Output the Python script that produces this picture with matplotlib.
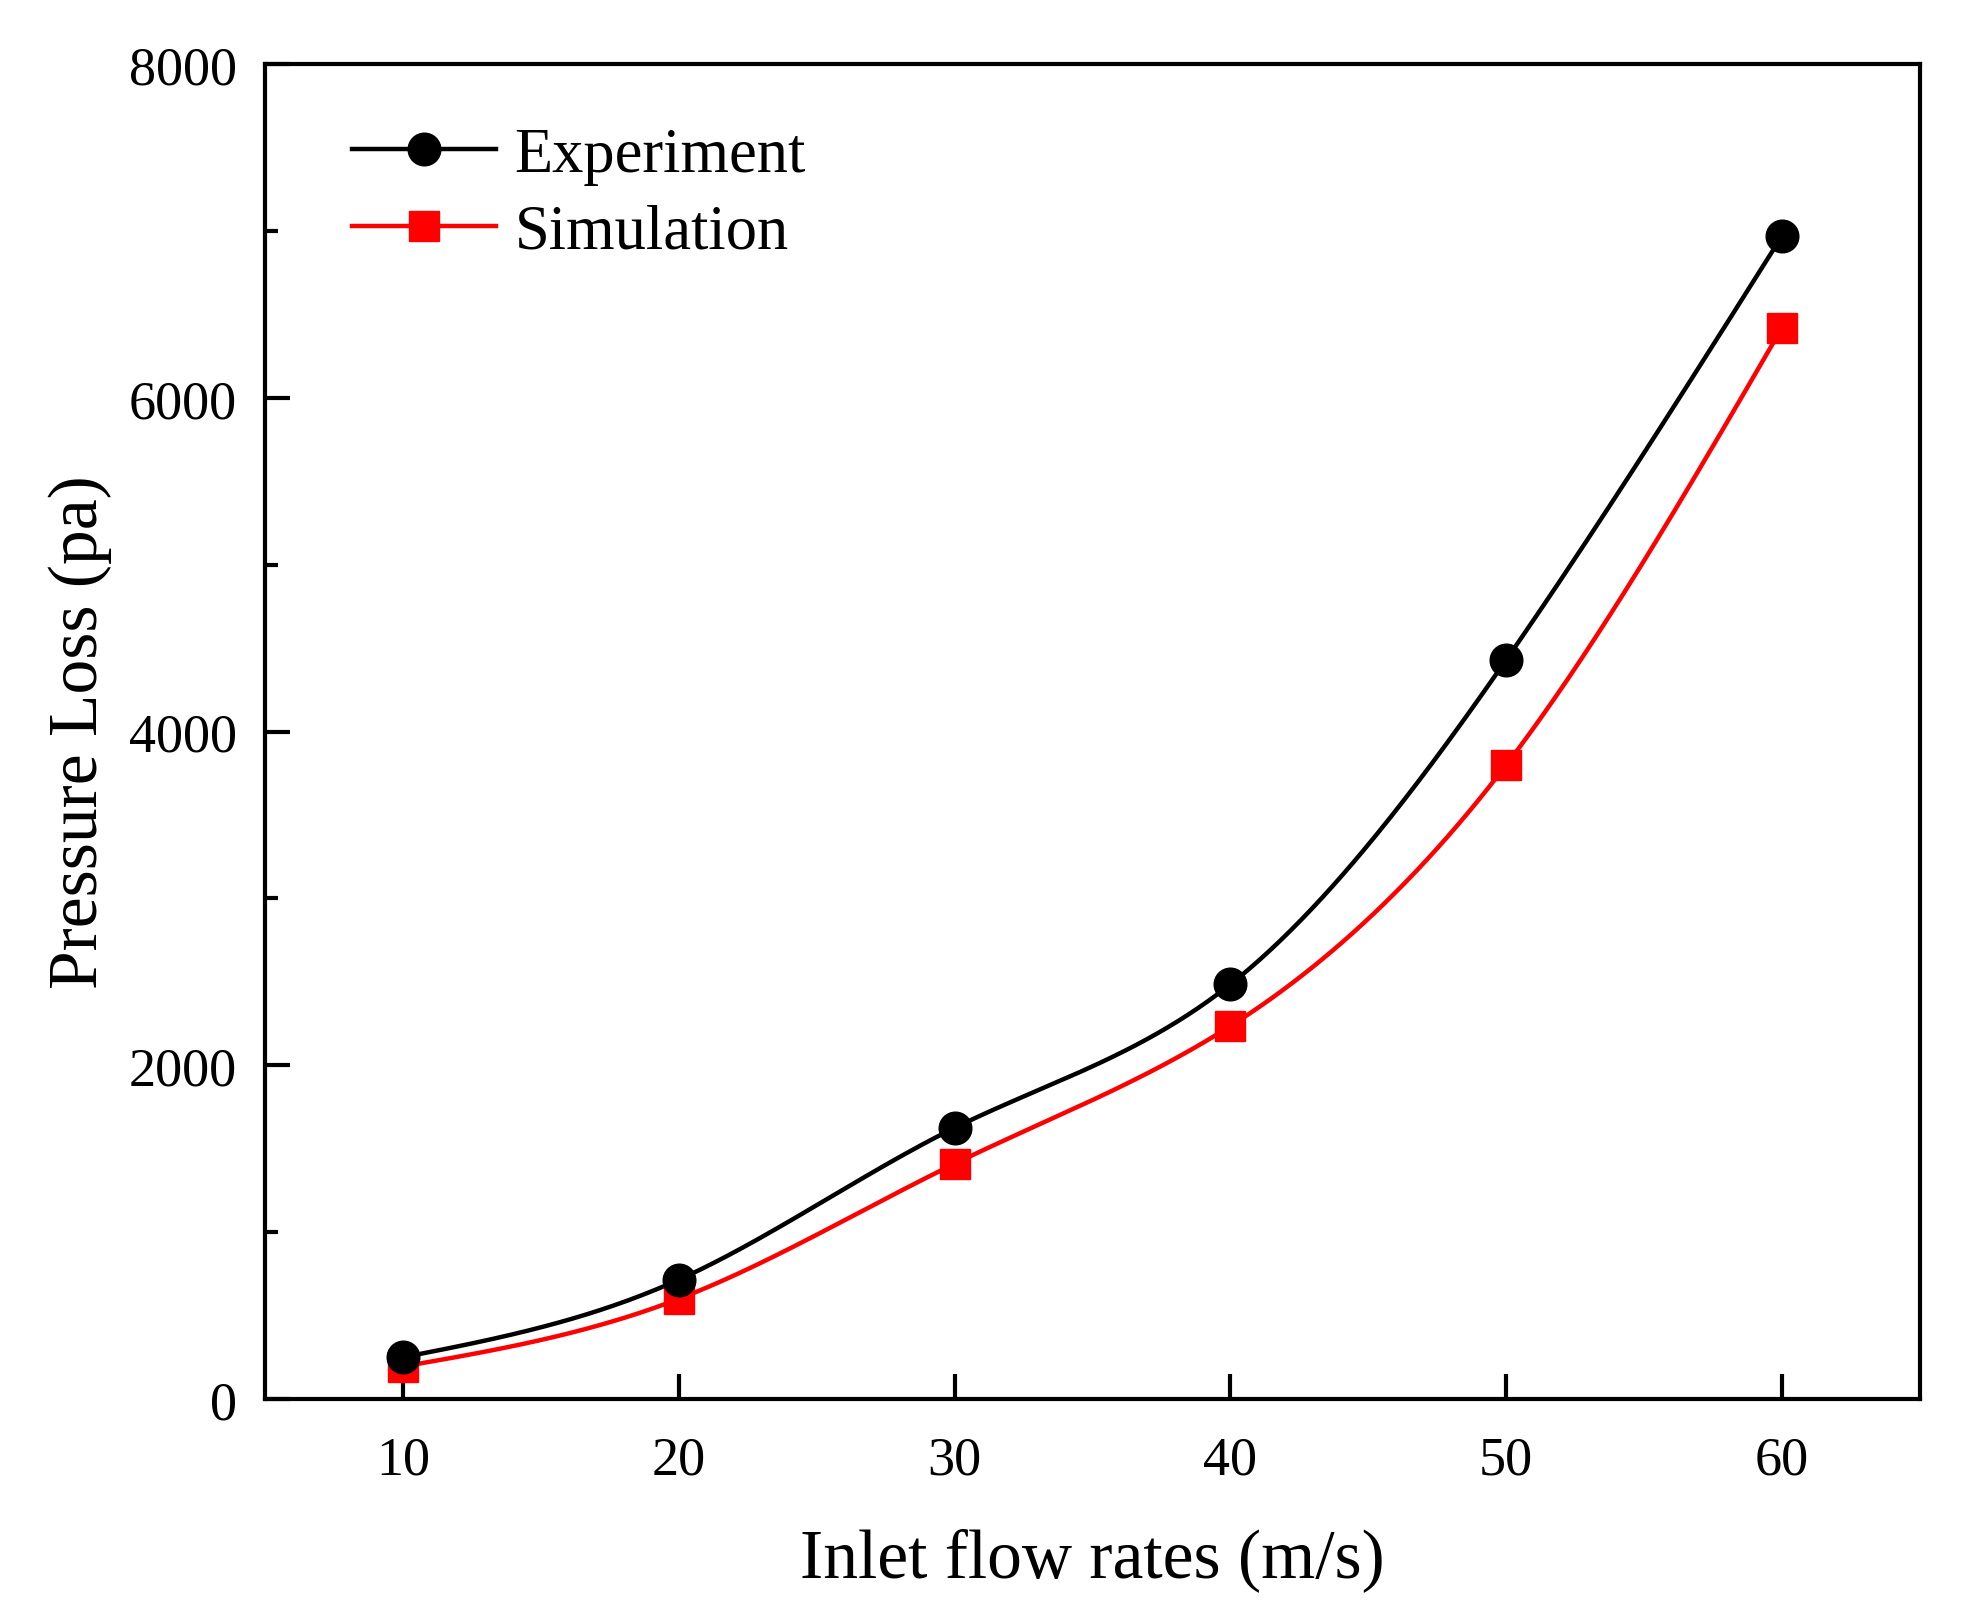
import numpy as np
import matplotlib
matplotlib.use("Agg")
import matplotlib.pyplot as plt
from matplotlib.ticker import MultipleLocator

# Datos
inlet_speed = [10, 20, 30, 40, 50, 60]
experiment = [250, 715, 1625, 2485, 4430, 6970]
simulation = [195, 600, 1410, 2235, 3800, 6420]


def natural_spline(x, y, n=400):
    """Curva suave (spline cúbico natural) que pasa por los puntos."""
    x = np.asarray(x, float)
    y = np.asarray(y, float)
    k = len(x)
    h = np.diff(x)
    A = np.zeros((k, k))
    b = np.zeros(k)
    A[0, 0] = A[-1, -1] = 1
    for i in range(1, k - 1):
        A[i, i - 1] = h[i - 1]
        A[i, i] = 2 * (h[i - 1] + h[i])
        A[i, i + 1] = h[i]
        b[i] = 6 * ((y[i + 1] - y[i]) / h[i] - (y[i] - y[i - 1]) / h[i - 1])
    m = np.linalg.solve(A, b)
    xs = np.linspace(x[0], x[-1], n)
    idx = np.clip(np.searchsorted(x, xs) - 1, 0, k - 2)
    x0, x1 = x[idx], x[idx + 1]
    y0, y1 = y[idx], y[idx + 1]
    m0, m1 = m[idx], m[idx + 1]
    hh = x1 - x0
    t0 = x1 - xs
    t1 = xs - x0
    ys = (m0 * t0**3 + m1 * t1**3) / (6 * hh) + (y0 / hh - m0 * hh / 6) * t0 + (y1 / hh - m1 * hh / 6) * t1
    return xs, ys


plt.rcParams['font.family'] = ['Liberation Serif', 'DejaVu Serif']

fig = plt.figure(figsize=(19.73, 16.24), dpi=100)
ax = fig.add_axes([0.1343, 0.1379, 0.8388, 0.822])

xs, ys = natural_spline(inlet_speed, experiment)
ax.plot(xs, ys, color='black', lw=3.2)
xs, ys = natural_spline(inlet_speed, simulation)
ax.plot(xs, ys, color='red', lw=3.2)
ax.plot(inlet_speed, simulation, 's', color='red', ms=21, mec='red')
ax.plot(inlet_speed, experiment, 'o', color='black', ms=23.5)

# Entradas de la leyenda
h1, = ax.plot([], [], color='black', lw=3.2, marker='o', ms=23.5, label='Experiment')
h2, = ax.plot([], [], color='red', lw=3.2, marker='s', ms=21, label='Simulation')
ax.legend(handles=[h1, h2], loc='upper left', bbox_to_anchor=(0.03, 0.981),
          frameon=False, fontsize=45, handlelength=2.3, handletextpad=0.3,
          labelspacing=0.3, borderaxespad=0.2)

ax.set_xlim(5, 65)
ax.set_ylim(0, 8000)
ax.set_xticks(inlet_speed)
ax.yaxis.set_major_locator(MultipleLocator(2000))
ax.yaxis.set_minor_locator(MultipleLocator(1000))

for s in ax.spines.values():
    s.set_linewidth(3)
ax.tick_params(axis='both', which='major', direction='in', length=18, width=3, labelsize=39)
ax.tick_params(axis='y', which='minor', direction='in', length=9, width=3)
ax.tick_params(axis='x', pad=26)
ax.tick_params(axis='y', pad=20)

ax.set_xlabel('Inlet flow rates (m/s)', fontsize=50, labelpad=30)
ax.set_ylabel('Pressure Loss (pa)', fontsize=50, labelpad=12)

fig.savefig('out.png', dpi=100)
